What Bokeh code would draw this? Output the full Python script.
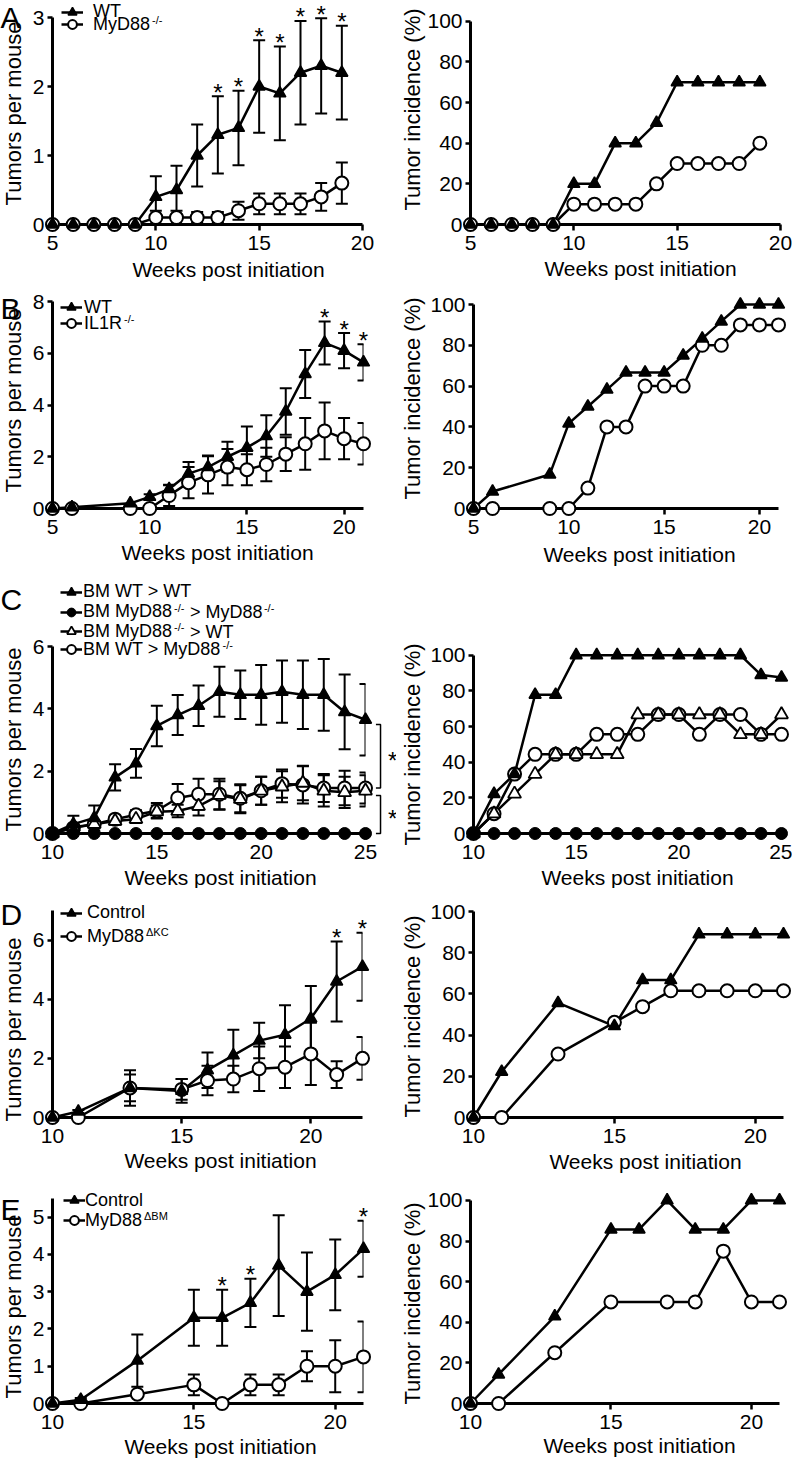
import math
from bokeh.plotting import figure
from bokeh.models import (ColumnDataSource, Whisker, TeeHead, Legend, LegendItem,
                          FixedTicker)
from bokeh.layouts import column, row
from bokeh.embed import file_html
from bokeh.resources import INLINE
from bokeh.core.properties import value

FONT = "Liberation Sans"

# ------------------------------------------------------------------ data
# Panel A : WT vs MyD88-/-
a_weeks = [5, 6, 7, 8, 9, 10, 11, 12, 13, 14, 15, 16, 17, 18, 19]
a_wt_tumors = [0, 0, 0, 0, 0, 0.4, 0.5, 1.0, 1.3, 1.4, 2.0, 1.9, 2.2, 2.3, 2.2]
a_wt_sem = [0, 0, 0, 0, 0, 0.3, 0.35, 0.45, 0.56, 0.54, 0.67, 0.68, 0.75, 0.69, 0.68]
a_ko_tumors = [0, 0, 0, 0, 0, 0.1, 0.1, 0.1, 0.1, 0.2, 0.3, 0.3, 0.3, 0.4, 0.6]
a_ko_sem = [0, 0, 0, 0, 0, 0.1, 0.1, 0.08, 0.08, 0.13, 0.15, 0.15, 0.15, 0.2, 0.3]
a_sig_weeks = [13, 14, 15, 16, 17, 18, 19]
a_wt_incidence = [0, 0, 0, 0, 0, 20, 20, 40, 40, 50, 70, 70, 70, 70, 70]
a_ko_incidence = [0, 0, 0, 0, 0, 10, 10, 10, 10, 20, 30, 30, 30, 30, 40]

# Panel B : WT vs IL1R-/-
b_weeks = [5, 6, 9, 10, 11, 12, 13, 14, 15, 16, 17, 18, 19, 20, 21]
b_wt_tumors = [0, 0.05, 0.2, 0.45, 0.75, 1.35, 1.6, 2.0, 2.35, 2.8, 3.75, 5.2, 6.4, 6.1, 5.65]
b_wt_sem = [0, 0, 0, 0.1, 0.17, 0.45, 0.45, 0.58, 0.82, 0.8, 0.9, 0.93, 0.83, 0.68, 0.7]
b_ko_tumors = [0, 0, 0, 0, 0.5, 1.0, 1.3, 1.6, 1.5, 1.7, 2.1, 2.5, 3.0, 2.7, 2.5]
b_ko_sem = [0, 0, 0, 0, 0.4, 0.6, 0.72, 0.7, 0.6, 0.65, 0.65, 1.0, 1.1, 0.8, 0.8]
b_sig_weeks = [19, 20, 21]
b_wt_incidence = [0, 8.3, 16.7, 41.7, 50, 58.3, 66.7, 66.7, 66.7, 75, 83.3, 91.7, 100, 100, 100]
b_ko_incidence = [0, 0, 0, 0, 10, 40, 40, 60, 60, 60, 80, 80, 90, 90, 90]

# Panel C : bone-marrow chimeras
c_weeks = [10, 11, 12, 13, 14, 15, 16, 17, 18, 19, 20, 21, 22, 23, 24, 25]
c_wtwt_tumors = [0, 0.3, 0.5, 1.8, 2.25, 3.45, 3.8, 4.1, 4.55, 4.45, 4.45, 4.55, 4.45, 4.45, 3.9, 3.65]
c_wtwt_sem = [0, 0.27, 0.4, 0.42, 0.46, 0.65, 0.64, 0.65, 0.8, 0.78, 0.96, 1.0, 1.1, 1.15, 1.2, 1.15]
c_koko_tumors = [0, 0, 0, 0, 0, 0, 0, 0, 0, 0, 0, 0, 0, 0, 0, 0]
c_kowt_tumors = [0, 0.2, 0.3, 0.4, 0.46, 0.7, 0.72, 0.88, 1.23, 1.1, 1.37, 1.5, 1.62, 1.37, 1.32, 1.37]
c_kowt_sem = [0, 0.08, 0.1, 0.12, 0.12, 0.2, 0.2, 0.3, 0.45, 0.45, 0.45, 0.5, 0.55, 0.5, 0.5, 0.5]
c_wtko_tumors = [0, 0.18, 0.3, 0.46, 0.6, 0.73, 1.14, 1.26, 1.26, 1.13, 1.37, 1.6, 1.56, 1.46, 1.46, 1.46]
c_wtko_sem = [0, 0.08, 0.1, 0.12, 0.15, 0.25, 0.45, 0.5, 0.5, 0.45, 0.45, 0.45, 0.6, 0.45, 0.55, 0.5]
c_wtwt_incidence = [0, 22.2, 33.3, 77.8, 77.8, 100, 100, 100, 100, 100, 100, 100, 100, 100, 88.9, 87.5]
c_koko_incidence = [0, 0, 0, 0, 0, 0, 0, 0, 0, 0, 0, 0, 0, 0, 0, 0]
c_kowt_incidence = [0, 11.1, 22.2, 33.3, 44.4, 44.4, 44.4, 44.4, 66.7, 66.7, 66.7, 66.7, 66.7, 55.6, 55.6, 66.7]
c_wtko_incidence = [0, 11.1, 33.3, 44.4, 44.4, 44.4, 55.6, 55.6, 55.6, 66.7, 66.7, 55.6, 66.7, 66.7, 55.6, 55.6]

# Panel D : Control vs MyD88 dKC
d_weeks = [10, 11, 13, 15, 16, 17, 18, 19, 20, 21, 22]
d_ctl_tumors = [0, 0.2, 1.0, 0.9, 1.6, 2.1, 2.6, 2.8, 3.35, 4.6, 5.1]
d_ctl_sem = [0, 0.05, 0.6, 0.4, 0.6, 0.87, 0.6, 1.0, 1.1, 1.35, 1.15]
d_ko_tumors = [0, 0, 1.0, 0.95, 1.25, 1.3, 1.65, 1.7, 2.15, 1.45, 2.0]
d_ko_sem = [0, 0, 0.45, 0.35, 0.5, 0.45, 0.75, 0.7, 1.05, 0.45, 0.72]
d_sig_weeks = [21, 22]
d_inc_weeks = [10, 11, 13, 15, 16, 17, 18, 19, 20, 21]
d_ctl_incidence = [0, 22.2, 55.6, 44.4, 66.7, 66.7, 88.9, 88.9, 88.9, 88.9]
d_ko_incidence = [0, 0, 30.8, 46.2, 53.8, 61.5, 61.5, 61.5, 61.5, 61.5]

# Panel E : Control vs MyD88 dBM
e_weeks = [10, 11, 13, 15, 16, 17, 18, 19, 20, 21]
e_ctl_tumors = [0, 0.1, 1.15, 2.3, 2.3, 2.7, 3.7, 3.0, 3.45, 4.15]
e_ctl_sem = [0, 0.05, 0.7, 0.75, 0.75, 0.65, 1.35, 1.05, 0.95, 0.75]
e_ko_tumors = [0, 0, 0.25, 0.5, 0, 0.5, 0.5, 1.0, 1.0, 1.25]
e_ko_sem = [0, 0, 0, 0.28, 0, 0.28, 0.28, 0.4, 0.7, 0.95]
e_sig_weeks = [16, 17, 21]
e_ctl_incidence = [0, 14.3, 42.9, 85.7, 85.7, 100, 85.7, 85.7, 100, 100]
e_ko_inc_weeks = [10, 11, 13, 15, 17, 18, 19, 20, 21]
e_ko_incidence = [0, 0, 25, 50, 50, 50, 75, 50, 50]

# ------------------------------------------------------------------ layout / style
FIG_W = 396
COL_X = {"L": 0, "R": 396}
ROW_TOP = {"A": 0, "B": 282, "C": 570, "D": 888, "E": 1176}
ROW_H = {"A": 282, "B": 288, "C": 318, "D": 288, "E": 284}

MARKERS = {
    "tri": dict(marker="triangle", size=12, fill_color="black", line_color="black", line_width=1.5),
    "circ": dict(marker="circle", size=13, fill_color="white", line_color="black", line_width=2),
    "dot": dict(marker="circle", size=12, fill_color="black", line_color="black", line_width=1),
    "otri": dict(marker="triangle", size=13, fill_color="white", line_color="black", line_width=1.8),
}

AW = {' ': 278, '-': 333, '/': 278, '>': 584, 'B': 667, 'M': 833, 'W': 944, 'T': 611,
      'y': 500, 'D': 722, '8': 556, 'I': 278, 'L': 556, '1': 556, 'R': 722, 'C': 722,
      'o': 556, 'n': 556, 't': 278, 'r': 333, 'l': 222, 'Δ': 668, 'K': 667}


def tw(s, size):
    return sum(AW.get(ch, 556) for ch in s) * size / 1000.0


MID = 0.3465   # distance (em) between the text's vertical middle and its baseline

N, S = False, True
TUM = "Tumors per mouse"
INC = "Tumor incidence (%)"
WK = "Weeks post initiation"
STAR_SIZE = 24
STAR_DY = -4        # px offset of significance stars above error-bar caps
BRACKET_STAR_DY = 4
LEG_GW, LEG_GH = 22, 32

panels = [
    dict(col="L", row="A", frame=(52, 362, 17, 224), xr=(5, 20), ymax=3,
         xt=[5, 10, 15, 20], yt=[0, 1, 2, 3], ytitle=TUM, ypos=(20.5, 113), xpos=(228, 276.5),
         letter=("A", 6),
         series=[dict(x=a_weeks, y=a_wt_tumors, e=a_wt_sem, m="tri", leg=(72, 11.5, 93, [("WT", N)])),
                 dict(x=a_weeks, y=a_ko_tumors, e=a_ko_sem, m="circ",
                      leg=(72, 24, 93, [("MyD88", N), ("-/-", S)]))],
         sig=[(0, a_sig_weeks)]),
    dict(col="R", row="A", frame=(470, 780, 21, 227), xr=(5, 20), ymax=100,
         xt=[5, 10, 15, 20], yt=[0, 20, 40, 60, 80, 100], ytitle=INC, ypos=(420, 112), xpos=(640, 278),
         series=[dict(x=a_weeks, y=a_wt_incidence, m="tri"),
                 dict(x=a_weeks, y=a_ko_incidence, m="circ")]),
    dict(col="L", row="B", frame=(52, 363, 301, 508), xr=(5, 21), ymax=8,
         xt=[5, 10, 15, 20], yt=[0, 2, 4, 6, 8], ytitle=TUM, ypos=(20.5, 400), xpos=(217, 559.5),
         letter=("B", 297),
         series=[dict(x=b_weeks, y=b_wt_tumors, e=b_wt_sem, m="tri", leg=(71, 307, 84, [("WT", N)])),
                 dict(x=b_weeks, y=b_ko_tumors, e=b_ko_sem, m="circ",
                      leg=(71, 323, 84, [("IL1R", N), ("-/-", S)]))],
         sig=[(0, b_sig_weeks)]),
    dict(col="R", row="B", frame=(473, 778, 304, 508), xr=(5, 21), ymax=100,
         xt=[5, 10, 15, 20], yt=[0, 20, 40, 60, 80, 100], ytitle=INC, ypos=(420, 398), xpos=(639, 561),
         series=[dict(x=b_weeks, y=b_wt_incidence, m="tri"),
                 dict(x=b_weeks, y=b_ko_incidence, m="circ")]),
    dict(col="L", row="C", frame=(52, 365, 646, 833), xr=(10, 25), ymax=6,
         xt=[10, 15, 20, 25], yt=[0, 2, 4, 6], ytitle=TUM, ypos=(20.5, 739), xpos=(220, 884),
         letter=("C", 588),
         series=[dict(x=c_weeks, y=c_wtwt_tumors, e=c_wtwt_sem, m="tri",
                      leg=(71, 591.7, 83, [("BM WT > WT", N)])),
                 dict(x=c_weeks, y=c_koko_tumors, m="dot",
                      leg=(71, 611.7, 83, [("BM MyD88", N), ("-/-", S), (" > MyD88", N), ("-/-", S)])),
                 dict(x=c_weeks, y=c_kowt_tumors, e=c_kowt_sem, m="otri",
                      leg=(71, 631, 83, [("BM MyD88", N), ("-/-", S), (" > WT", N)])),
                 dict(x=c_weeks, y=c_wtko_tumors, e=c_wtko_sem, m="circ",
                      leg=(71, 649.3, 83, [("BM WT > MyD88", N), ("-/-", S)]))],
         brackets=[(0, 3), (2, 1)]),
    dict(col="R", row="C", frame=(473, 781, 655, 834), xr=(10, 25), ymax=100,
         xt=[10, 15, 20, 25], yt=[0, 20, 40, 60, 80, 100], ytitle=INC, ypos=(420, 745), xpos=(637, 885),
         series=[dict(x=c_weeks, y=c_wtwt_incidence, m="tri"),
                 dict(x=c_weeks, y=c_koko_incidence, m="dot"),
                 dict(x=c_weeks, y=c_kowt_incidence, m="otri"),
                 dict(x=c_weeks, y=c_wtko_incidence, m="circ")]),
    dict(col="L", row="D", frame=(52, 362, 910, 1117), xr=(10, 22), ymax=7,
         xt=[10, 15, 20], yt=[0, 2, 4, 6], ytitle=TUM, ypos=(20.5, 1029), xpos=(220, 1167),
         letter=("D", 903),
         series=[dict(x=d_weeks, y=d_ctl_tumors, e=d_ctl_sem, m="tri",
                      leg=(71, 912.7, 87, [("Control", N)])),
                 dict(x=d_weeks, y=d_ko_tumors, e=d_ko_sem, m="circ",
                      leg=(71, 936, 87, [("MyD88", N), ("ΔKC", S)]))],
         sig=[(0, d_sig_weeks)]),
    dict(col="R", row="D", frame=(473, 783, 911, 1117), xr=(10, 21), ymax=100,
         xt=[10, 15, 20], yt=[0, 20, 40, 60, 80, 100], ytitle=INC, ypos=(420, 1016), xpos=(645, 1168),
         series=[dict(x=d_inc_weeks, y=d_ctl_incidence, m="tri"),
                 dict(x=d_inc_weeks, y=d_ko_incidence, m="circ")]),
    dict(col="L", row="E", frame=(52, 363, 1198, 1403), xr=(10, 21), ymax=5.5,
         xt=[10, 15, 20], yt=[0, 1, 2, 3, 4, 5], ytitle=TUM, ypos=(20.5, 1306), xpos=(220, 1453),
         letter=("E", 1198),
         series=[dict(x=e_weeks, y=e_ctl_tumors, e=e_ctl_sem, m="tri",
                      leg=(74, 1200, 85, [("Control", N)])),
                 dict(x=e_weeks, y=e_ko_tumors, e=e_ko_sem, m="circ",
                      leg=(74, 1220, 85, [("MyD88", N), ("ΔBM", S)]))],
         sig=[(0, e_sig_weeks)]),
    dict(col="R", row="E", frame=(470, 779, 1200, 1404), xr=(10, 21), ymax=100,
         xt=[10, 15, 20], yt=[0, 20, 40, 60, 80, 100], ytitle=INC, ypos=(420, 1304), xpos=(639, 1453),
         series=[dict(x=e_weeks, y=e_ctl_incidence, m="tri"),
                 dict(x=e_ko_inc_weeks, y=e_ko_incidence, m="circ")]),
]


def build(cfg):
    fl, fr, ft, fb = cfg["frame"]
    cx0 = COL_X[cfg["col"]]
    ry0 = ROW_TOP[cfg["row"]]
    rh = ROW_H[cfg["row"]]
    ymax = cfg["ymax"]
    # the plotting frame reaches the top of the row so that legends are not clipped;
    # the y axis itself is bounded to [0, ymax]
    y_end = ymax * (fb - ry0) / (fb - ft)
    p = figure(width=FIG_W, height=rh, x_range=cfg["xr"], y_range=(0, y_end),
               min_border_left=fl - cx0, min_border_right=cx0 + FIG_W - fr,
               min_border_top=0, min_border_bottom=ry0 + rh - fb,
               toolbar_location=None, tools="", output_backend="svg")
    p.outline_line_color = None
    p.grid.visible = False
    p.background_fill_color = "white"
    p.border_fill_color = "white"
    ax0 = cfg["xr"][0]

    def sx(px):
        return px - fl

    def sy(py):
        return fb - py

    def ptext(px, py, text, size, angle=0.0, align="left", baseline=True):
        # (px, py): page position; baseline=True -> py (or px when rotated) is the text baseline,
        # otherwise it is the vertical middle of the text
        dx, dy = 0.0, 0.0
        if baseline:
            if angle:
                dx = -MID * size
            else:
                dy = -MID * size
        p.text(x=[ax0], y=[0], text=[text], x_offset=px - fl + dx, y_offset=py - fb + dy,
               angle=angle, text_font=value(FONT), text_font_size=f"{size}px",
               text_color="black", text_align=align, text_baseline="middle", level="overlay")

    for ax in (p.xaxis[0], p.yaxis[0]):
        ax.axis_line_width = 3
        ax.axis_line_color = "black"
        ax.major_tick_line_width = 2.5
        ax.major_tick_line_color = "black"
        ax.major_tick_in = 0
        ax.minor_tick_line_color = None
        ax.major_label_text_font = FONT
        ax.major_label_text_font_size = "21px"
        ax.major_label_text_color = "black"
    p.xaxis[0].major_tick_out = 6
    p.xaxis[0].major_label_standoff = 5
    p.yaxis[0].major_tick_out = 5
    p.yaxis[0].major_label_standoff = 3
    p.yaxis[0].bounds = (0, ymax)
    p.xaxis[0].ticker = FixedTicker(ticks=cfg["xt"])
    p.yaxis[0].ticker = FixedTicker(ticks=cfg["yt"])

    series = cfg["series"]
    # error bars (SEM)
    for s in series:
        if "e" in s:
            xs, up, lo = [], [], []
            for xv, yv, ev in zip(s["x"], s["y"], s["e"]):
                if ev > 0:
                    xs.append(xv)
                    up.append(yv + ev)
                    lo.append(max(0.0, yv - ev))
            src = ColumnDataSource(dict(x=xs, upper=up, lower=lo))
            p.add_layout(Whisker(source=src, base="x", upper="upper", lower="lower",
                                 dimension="height", line_color="black", line_width=2,
                                 upper_head=TeeHead(size=12, line_width=2, line_color="black"),
                                 lower_head=TeeHead(size=12, line_width=2, line_color="black"),
                                 level="annotation"))
    # lines then markers (first series on top)
    srcs = [ColumnDataSource(dict(x=s["x"], y=s["y"])) for s in series]
    lines, marks = {}, {}
    for i in reversed(range(len(series))):
        lines[i] = p.line("x", "y", source=srcs[i], line_color="black", line_width=2.5, level="overlay")
    for i in reversed(range(len(series))):
        marks[i] = p.scatter("x", "y", source=srcs[i], level="overlay", **MARKERS[series[i]["m"]])

    # legend entries
    gw, gh = LEG_GW, LEG_GH
    for i, s in enumerate(series):
        if "leg" not in s:
            continue
        cx, cy, tx, segs = s["leg"]
        standoff = max(0, int(round(tx - (cx + gw / 2))))
        leg = Legend(items=[LegendItem(label=segs[0][0], renderers=[lines[i], marks[i]])],
                     location=(sx(cx - gw / 2), sy(cy + gh / 2)), orientation="vertical",
                     padding=0, margin=0, spacing=0, glyph_width=gw, glyph_height=gh,
                     label_height=gh, label_width=10, label_standoff=standoff,
                     label_text_font=FONT, label_text_font_size="18px", label_text_color="black",
                     border_line_color=None, background_fill_color=None)
        p.add_layout(leg)
        x = cx + gw / 2 + standoff + tw(segs[0][0], 18)
        for text, sup in segs[1:]:
            if sup:
                ptext(x + 1.5, cy - 4.5, text, 11, baseline=False)
                x += tw(text, 11) + 2
            else:
                lead = len(text) - len(text.lstrip(" "))
                x += tw(" " * lead, 18)
                t = text.strip()
                ptext(x, cy, t, 18, baseline=False)
                x += tw(t, 18)

    # significance asterisks above error bars
    for si, weeks in cfg.get("sig", []):
        s = series[si]
        xs = [w for w in weeks]
        ys = [s["y"][s["x"].index(w)] + s["e"][s["x"].index(w)] for w in weeks]
        p.text(x=xs, y=ys, text=["*"] * len(xs), text_font=value(FONT),
               text_font_size=f"{STAR_SIZE}px", text_align="center", text_baseline="middle",
               y_offset=STAR_DY, text_color="black", level="overlay")

    # brackets comparing final values
    if "brackets" in cfg:
        xl = series[0]["x"][-1]
        bxs, bys, stx, sty = [], [], [], []
        for top_i, bot_i in cfg["brackets"]:
            ty = series[top_i]["y"][-1] - 0.15
            by = series[bot_i]["y"][-1]
            bxs.append([xl + 0.5, xl + 0.72, xl + 0.72, xl + 0.5])
            bys.append([ty, ty, by, by])
            stx.append(xl + 1.3)
            sty.append((ty + by) / 2)
        p.multi_line(xs=bxs, ys=bys, line_color="black", line_width=1.5, level="overlay")
        p.text(x=stx, y=sty, text=["*"] * len(stx), text_font=value(FONT),
               text_font_size=f"{STAR_SIZE}px", text_align="center", text_baseline="middle",
               y_offset=BRACKET_STAR_DY, text_color="black", level="overlay")

    # axis titles
    bx, cy = cfg["ypos"]
    ptext(bx, cy, cfg["ytitle"], 22, angle=math.pi / 2, align="center")
    tx, by = cfg["xpos"]
    ptext(tx, by, WK, 21, align="center")
    # panel letter
    if "letter" in cfg:
        letter, cap_top = cfg["letter"]
        ptext(cx0, cap_top + 21.5, letter, 30)
    return p


figs = [build(c) for c in panels]
layout = column(*[row(figs[i], figs[i + 1]) for i in range(0, len(figs), 2)])

with open("out.html", "w") as f:
    f.write(file_html(layout, INLINE))
